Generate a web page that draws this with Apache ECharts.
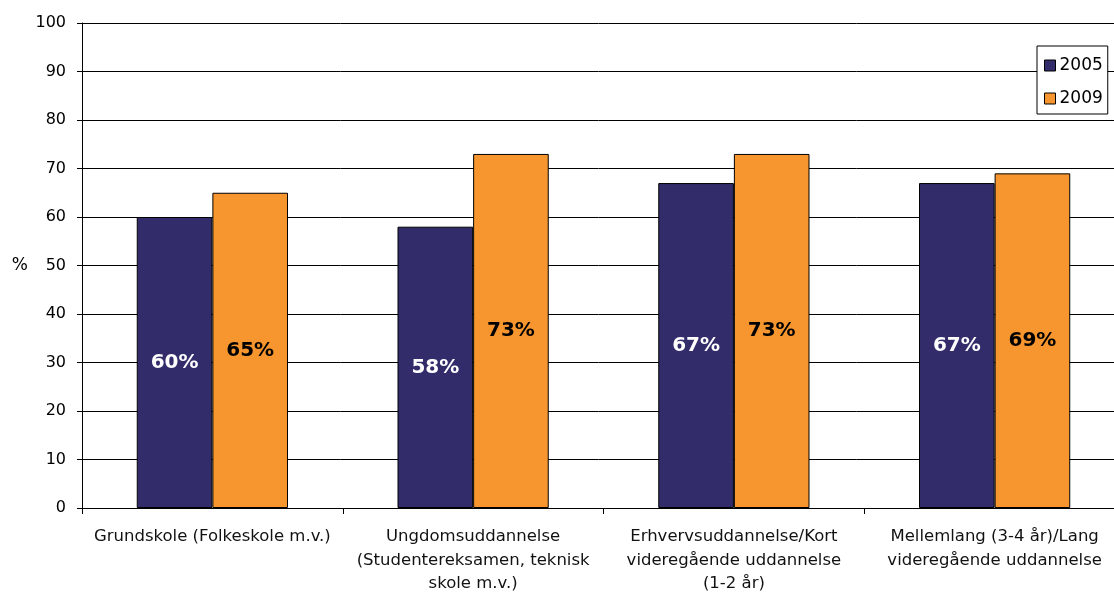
<!DOCTYPE html>
<html>
<head>
<meta charset="utf-8">
<script src="https://cdn.jsdelivr.net/npm/echarts@6/dist/echarts.min.js"></script>
<style>
  html, body { margin: 0; padding: 0; background: #fff; }
  #chart { width: 1114px; height: 595px; }
</style>
</head>
<body>
<div id="chart"></div>
<script>
const categories = [
  'Grundskole (Folkeskole m.v.)',
  'Ungdomsuddannelse\n(Studentereksamen, teknisk\nskole m.v.)',
  'Erhvervsuddannelse/Kort\nvideregående uddannelse\n(1-2 år)',
  'Mellemlang (3-4 år)/Lang\nvideregående uddannelse'
]
const values2005 = [60, 58, 67, 67]
const values2009 = [65, 73, 73, 69]
const yTicks = [0, 10, 20, 30, 40, 50, 60, 70, 80, 90, 100]

const font = 'DejaVu Sans, Verdana, sans-serif'
const chart = echarts.init(document.getElementById('chart'))

const option = {
  animation: false,
  textStyle: { fontFamily: font },
  grid: { left: 82, top: 23, width: 1043, bottom: 87, outerBoundsMode: 'none', containLabel: false },
  legend: {
    data: ['2005', '2009'],
    orient: 'vertical',
    left: 1037,
    top: 46,
    icon: 'rect',
    itemWidth: 11,
    itemHeight: 11,
    itemGap: 16,
    padding: [11, 5, 7, 7],
    borderColor: '#000',
    borderWidth: 1,
    backgroundColor: '#fff',
    itemStyle: { borderColor: '#000', borderWidth: 1 },
    textStyle: { fontSize: 17, color: '#000', fontFamily: font, padding: [0, 0, 0, -1] }
  },
  xAxis: {
    type: 'category',
    data: categories,
    axisLine: { lineStyle: { color: '#000', width: 1 } },
    axisTick: { show: true, length: 6, lineStyle: { color: '#000' } },
    axisLabel: { fontSize: 16.5, color: '#111', lineHeight: 23.5, margin: 17, interval: 0 }
  },
  yAxis: {
    type: 'value',
    min: 0,
    max: 100,
    interval: 10,
    name: '%',
    nameLocation: 'middle',
    nameRotate: 0,
    nameGap: 54,
    nameTextStyle: { fontSize: 17, color: '#000' },
    axisLine: { show: true, lineStyle: { color: '#000', width: 1 } },
    axisTick: { show: true, length: 5, lineStyle: { color: '#000' } },
    axisLabel: {
      fontSize: 16, color: '#000', margin: 16,
      formatter: v => yTicks.includes(v) ? String(v) : ''
    },
    splitLine: { lineStyle: { color: '#000', width: 1 } }
  },
  series: [
    {
      name: '2005',
      type: 'bar',
      data: values2005,
      barGap: '0%',
      barCategoryGap: '42%',
      itemStyle: { color: '#322C6B', borderColor: '#000', borderWidth: 1 },
      label: {
        show: true, position: 'inside', formatter: '{c}%',
        color: '#fff', fontSize: 20, fontWeight: 'bold', fontFamily: font
      }
    },
    {
      name: '2009',
      type: 'bar',
      data: values2009,
      barGap: '0%',
      barCategoryGap: '42%',
      itemStyle: { color: '#F7962E', borderColor: '#000', borderWidth: 1 },
      label: {
        show: true, position: 'inside', formatter: '{c}%',
        color: '#000', fontSize: 20, fontWeight: 'bold', fontFamily: font
      }
    }
  ]
}

chart.setOption(option)
</script>
</body>
</html>
